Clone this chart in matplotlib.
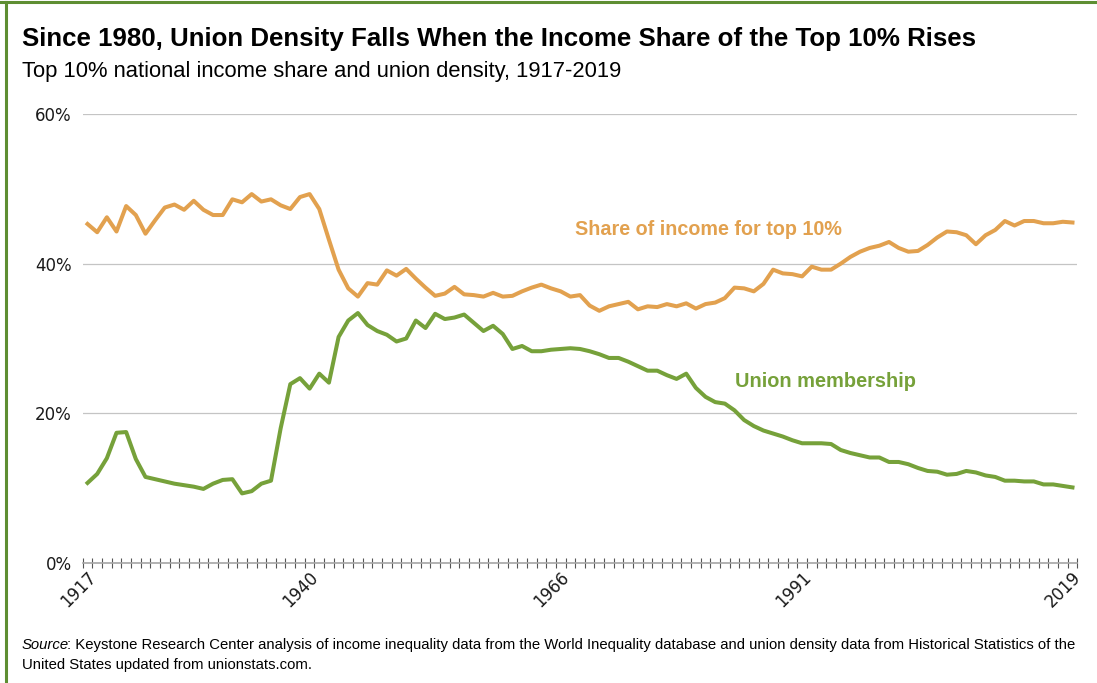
import numpy as np
import matplotlib
matplotlib.use("Agg")
import matplotlib.pyplot as plt
from matplotlib.lines import Line2D
from matplotlib.transforms import ScaledTranslation

# data (percent)
years = np.arange(1917, 2020)

income_share = [
    45.3, 44.2, 46.2, 44.3, 47.7, 46.5, 44.0, 45.8, 47.5, 47.9,   # 1917-1926
    47.2, 48.4, 47.2, 46.5, 46.5, 48.6, 48.2, 49.3, 48.3, 48.6,   # 1927-1936
    47.8, 47.3, 48.9, 49.3, 47.3, 43.2, 39.2, 36.7, 35.6, 37.4,   # 1937-1946
    37.2, 39.1, 38.4, 39.3, 38.0, 36.8, 35.7, 36.0, 36.9, 35.9,   # 1947-1956
    35.8, 35.6, 36.1, 35.6, 35.7, 36.3, 36.8, 37.2, 36.7, 36.3,   # 1957-1966
    35.6, 35.8, 34.4, 33.7, 34.3, 34.6, 34.9, 33.9, 34.3, 34.2,   # 1967-1976
    34.6, 34.3, 34.7, 34.0, 34.6, 34.8, 35.4, 36.8, 36.7, 36.3,   # 1977-1986
    37.3, 39.2, 38.7, 38.6, 38.3, 39.6, 39.2, 39.2, 40.0, 40.9,   # 1987-1996
    41.6, 42.1, 42.4, 42.9, 42.1, 41.6, 41.7, 42.5, 43.5, 44.3,   # 1997-2006
    44.2, 43.8, 42.6, 43.8, 44.5, 45.7, 45.1, 45.7, 45.7, 45.4,   # 2007-2016
    45.4, 45.6, 45.5,                                             # 2017-2019
]

union_density = [
    10.7, 11.9, 14.0, 17.4, 17.5, 13.9, 11.5, 11.2, 10.9, 10.6,   # 1917-1926
    10.4, 10.2, 9.9, 10.6, 11.1, 11.2, 9.3, 9.6, 10.6, 11.0,      # 1927-1936
    18.0, 23.9, 24.7, 23.3, 25.3, 24.1, 30.2, 32.4, 33.4, 31.8,   # 1937-1946
    31.0, 30.5, 29.6, 30.0, 32.4, 31.4, 33.3, 32.6, 32.8, 33.2,   # 1947-1956
    32.1, 31.0, 31.7, 30.6, 28.6, 29.0, 28.3, 28.3, 28.5, 28.6,   # 1957-1966
    28.7, 28.6, 28.3, 27.9, 27.4, 27.4, 26.9, 26.3, 25.7, 25.7,   # 1967-1976
    25.1, 24.6, 25.3, 23.4, 22.2, 21.5, 21.3, 20.4, 19.1, 18.3,   # 1977-1986
    17.7, 17.3, 16.9, 16.4, 16.0, 16.0, 16.0, 15.9, 15.1, 14.7,   # 1987-1996
    14.4, 14.1, 14.1, 13.5, 13.5, 13.2, 12.7, 12.3, 12.2, 11.8,   # 1997-2006
    11.9, 12.3, 12.1, 11.7, 11.5, 11.0, 11.0, 10.9, 10.9, 10.5,   # 2007-2016
    10.5, 10.3, 10.1,                                             # 2017-2019
]

label_years = [1917, 1940, 1966, 1991, 2019]
y_ticks = [0, 20, 40, 60]
y_labels = ["0%", "20%", "40%", "60%"]

ORANGE = "#E2A14F"
GREEN = "#76A13A"
FRAME = "#5E8E32"

sans = ["Liberation Sans", "DejaVu Sans"]

W, H = 1097, 683
fig = plt.figure(figsize=(W / 100, H / 100), dpi=100)
ax = fig.add_axes([82.7 / W, 120 / H, 994.6 / W, 449 / H])

ax.plot(years, income_share, color=ORANGE, lw=2.9, solid_joinstyle="round", zorder=3)
ax.plot(years, union_density, color=GREEN, lw=2.9, solid_joinstyle="round", zorder=3)

ax.set_xlim(1916.5, 2019.5)
ax.set_ylim(0, 60)

for s in ["top", "right", "left"]:
    ax.spines[s].set_visible(False)
ax.spines["bottom"].set_color("#A6A6A6")
ax.spines["bottom"].set_linewidth(1.2)

ax.set_yticks(y_ticks)
ax.set_yticklabels(y_labels)
ax.tick_params(axis="y", length=0, pad=8, labelsize=12, labelcolor="#1a1a1a")
ax.grid(axis="y", color="#C4C4C4", lw=0.9)
ax.set_axisbelow(True)

ax.set_xticks(label_years)
ax.set_xticklabels([str(y) for y in label_years], rotation=45, ha="center",
                   va="center", fontsize=12, color="#1a1a1a")
ax.tick_params(axis="x", which="major", length=0, pad=19)
ax.set_xticks(np.arange(1916.5, 2020, 1), minor=True)
ax.tick_params(axis="x", which="minor", direction="inout", length=7.5,
               width=0.8, color="#555555")
shift = ScaledTranslation(-9 / 100, 0, fig.dpi_scale_trans)
for lab in ax.get_xticklabels():
    lab.set_transform(lab.get_transform() + shift)

# series labels
t_inc = ax.text(1967.5, 44.5, "Share of income for top 10%", color=ORANGE,
                fontsize=14, fontweight="bold", family=sans, va="center")
t_uni = ax.text(1984.0, 24.2, "Union membership", color=GREEN,
                fontsize=14, fontweight="bold", family=sans, va="center")

# title block
t_title = fig.text(22 / W, 1 - 46 / H,
                   "Since 1980, Union Density Falls When the Income Share of the Top 10% Rises",
                   fontsize=18, fontweight="bold", family=sans, va="baseline")
t_sub = fig.text(22 / W, 1 - 77 / H,
                 "Top 10% national income share and union density, 1917-2019",
                 fontsize=14, family=sans, va="baseline")

# source note
t_src = fig.text(22 / W, 1 - 649 / H, "Source", fontsize=10, style="italic",
                 family=sans, va="baseline")
t_src2 = fig.text(60 / W, 1 - 649 / H,
                  ": Keystone Research Center analysis of income inequality data from the World "
                  "Inequality database and union density data from Historical Statistics of the",
                  fontsize=10, family=sans, va="baseline")
t_src3 = fig.text(22 / W, 1 - 669 / H, "United States updated from unionstats.com.",
                  fontsize=10, family=sans, va="baseline")

# scale the texts to the widths they take in the original
fig.canvas.draw()
rend = fig.canvas.get_renderer()


def width(t):
    return t.get_window_extent(rend).width


for t, target in [(t_title, 955), (t_sub, 605), (t_inc, 267), (t_uni, 182)]:
    t.set_fontsize(t.get_fontsize() * target / width(t))

k = 1061 / (width(t_src) + width(t_src2))
for t in (t_src, t_src2, t_src3):
    t.set_fontsize(t.get_fontsize() * k)
t_src2.set_x((22 + width(t_src) - 2) / W)

# frame lines (top and left)
fig.add_artist(Line2D([0, 1], [1 - 2 / H, 1 - 2 / H], color=FRAME, lw=2.2,
                      transform=fig.transFigure))
fig.add_artist(Line2D([6 / W, 6 / W], [0, 1 - 2 / H], color=FRAME, lw=2.2,
                      transform=fig.transFigure))

fig.savefig("out.png", dpi=100)
